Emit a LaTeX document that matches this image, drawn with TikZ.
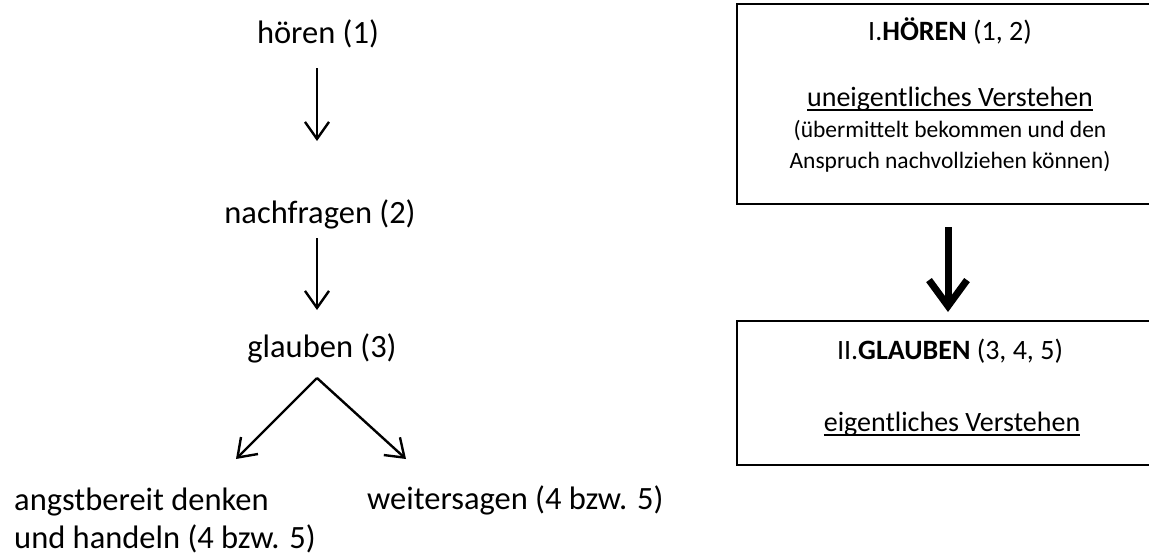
\documentclass[tikz,border=0pt]{standalone}
\usepackage{fontspec}
\setmainfont{Carlito}
\usetikzlibrary{arrows.meta}
\newcommand\myul[1]{\setbox0\hbox{#1}\rlap{\rule[-0.17em]{\wd0}{0.06em}}\box0}
\tikzset{
  lbl/.style={inner sep=0pt, font=\fontsize{32.5}{38}\selectfont},
  boxtxt/.style={inner sep=0pt, font=\fontsize{28}{34}\selectfont},
  smalltxt/.style={inner sep=0pt, font=\fontsize{23.5}{31}\selectfont, align=center},
  thinarrow/.style={line width=2.4pt, -{Straight Barb[length=17pt,width=24pt,line width=2.4pt]}},
  fatarrow/.style={line width=7pt, -{Straight Barb[length=26pt,width=38pt,line width=7pt]}},
  frame/.style={draw, line width=2pt},
}
\begin{document}
\begin{tikzpicture}[x=1pt,y=-1pt]
\useasboundingbox (0,0) rectangle (1149,557);
% left column
\node[lbl] (h) at (318,34) {hören (1)};
\node[lbl] (n) at (320,214) {nachfragen (2)};
\node[lbl] (g) at (322,348) {glauben (3)};
\node[lbl, anchor=west, align=left] (a) at (14,520) {angstbereit denken\\und handeln (4 bzw. 5)};
\node[lbl, anchor=base west] (w) at (367,509) {weitersagen (4 bzw. 5)};
\coordinate (h1) at (317,68);  \coordinate (h2) at (317,141);
\coordinate (n1) at (317,238); \coordinate (n2) at (317,310);
\coordinate (g0) at (317,378);
\coordinate (at) at (236,459); \coordinate (wt) at (406,459);
\draw[thinarrow] (h1) -- (h2);
\draw[thinarrow] (n1) -- (n2);
\draw[thinarrow] (g0) -- (at);
\draw[thinarrow] (g0) -- (wt);
% right column (boxes run past the right edge)
\draw[frame] (1152,4) -- (737,4) -- (737,204) -- (1152,204);
\draw[frame] (1152,321) -- (737,321) -- (737,465) -- (1152,465);
\node[boxtxt, anchor=base] (t1) at (950,40) {I.\textbf{HÖREN} (1, 2)};
\node[boxtxt, anchor=base] (u1) at (950,106) {\myul{uneigentliches Verstehen}};
\node[smalltxt] (s1) at (950,146) {(übermittelt bekommen und den\\Anspruch nachvollziehen können)};
\node[boxtxt, anchor=base] (t2) at (950,359) {II.\textbf{GLAUBEN} (3, 4, 5)};
\node[boxtxt, anchor=base] (u2) at (952,431) {\myul{eigentliches Verstehen}};
\coordinate (f1) at (948,227); \coordinate (f2) at (948,312);
\draw[fatarrow] (f1) -- (f2);
\end{tikzpicture}
\end{document}
